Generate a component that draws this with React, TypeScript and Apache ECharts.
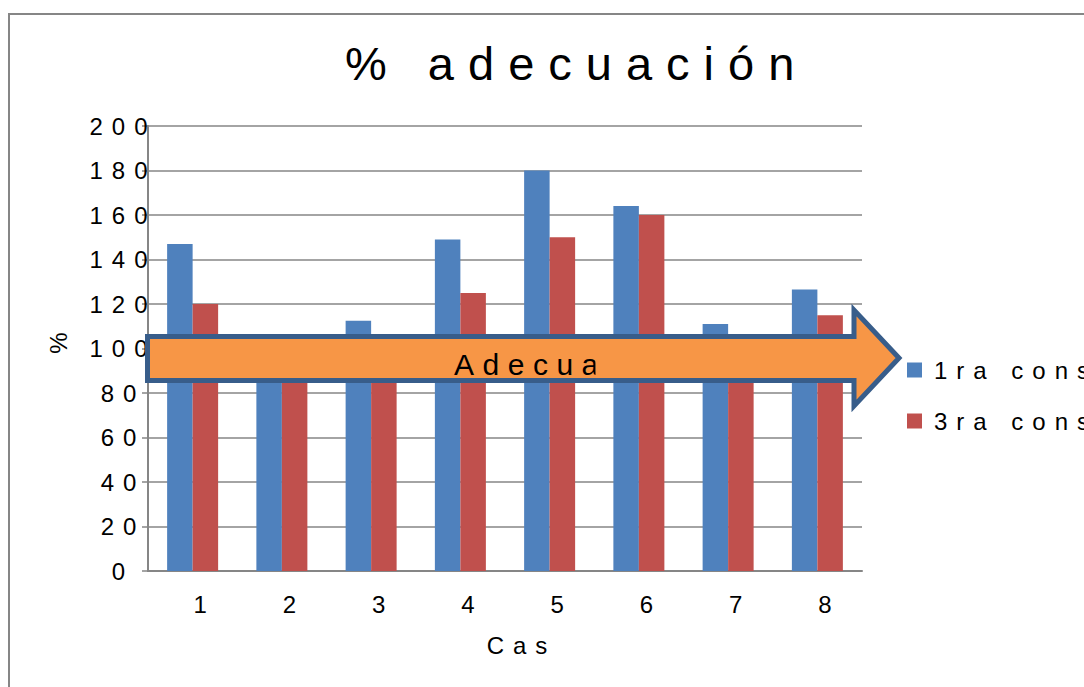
import React, { useEffect, useRef } from "react";
import * as echarts from "echarts";

const categories = ["1", "2", "3", "4", "5", "6", "7", "8"];
const seriesNames = ["1ra consulta", "3ra consulta"];
const primera = [147, 100, 112.5, 149, 180, 164, 111, 126.5];
const tercera = [120, 98, 96, 125, 150, 160, 95, 115];
const yMin = 0;
const yMax = 200;
const yInterval = 20;
const titleText = "% adecuación";
const xName = "Cas";
const yName = "%";
const arrowText = "Adecua";

const FONT = "'Liberation Sans', Arial, Helvetica, sans-serif";
const GRAY = "#868686";

export default function App() {
  const ref = useRef<HTMLDivElement>(null);

  useEffect(() => {
    if (!ref.current) return;
    const chart = echarts.init(ref.current, null, { renderer: "svg" });

    // arrow annotation geometry (layout only)
    const L = 147.5, bt = 336.5, bb = 380.5, hx = 854, ht = 310, tipX = 899, tipY = 358, hb = 406;

    chart.setOption({
      animation: false,
      backgroundColor: "#ffffff",
      title: {
        text: titleText,
        left: 345,
        top: 40,
        padding: 0,
        textStyle: { fontFamily: FONT, fontSize: 47, fontWeight: "normal", color: "#000" },
      },
      legend: {
        data: seriesNames,
        orient: "vertical",
        left: 907,
        top: 358,
        padding: 0,
        itemWidth: 15,
        itemHeight: 15,
        itemGap: 27,
        icon: "rect",
        textStyle: { fontFamily: FONT, fontSize: 24, color: "#000", lineHeight: 24, padding: [0, 0, 0, 7] },
      },
      grid: { left: 148, right: 222, top: 126, bottom: 116, containLabel: false },
      xAxis: {
        type: "category",
        data: categories,
        axisLine: { show: true, lineStyle: { color: GRAY, width: 2 } },
        axisTick: { show: false },
        axisLabel: {
          fontFamily: FONT, fontSize: 24, color: "#000", margin: 21, padding: [0, 0, 0, 24], lineHeight: 24,
        },
        name: xName,
        nameLocation: "middle",
        nameGap: 62,
        nameTextStyle: { fontFamily: FONT, fontSize: 24, color: "#000", padding: [0, 0, 0, 33], lineHeight: 24 },
      },
      yAxis: {
        type: "value",
        min: yMin,
        max: yMax,
        interval: yInterval,
        axisLine: { show: true, lineStyle: { color: GRAY, width: 2 } },
        axisTick: { show: true, length: 6, lineStyle: { color: GRAY, width: 1.5 } },
        splitLine: { show: true, lineStyle: { color: GRAY, width: 1.5 } },
        axisLabel: { fontFamily: FONT, fontSize: 24, color: "#000", align: "center", margin: 25 },
        name: yName,
        nameLocation: "middle",
        nameGap: 78,
        nameTextStyle: { fontFamily: FONT, fontSize: 24, color: "#000", padding: [0, 0, 0, 20] },
      },
      series: [
        { name: seriesNames[0], type: "bar", data: primera, barWidth: 25.5, barGap: "0%", itemStyle: { color: "#4F81BD" } },
        { name: seriesNames[1], type: "bar", data: tercera, barWidth: 25.5, barGap: "0%", itemStyle: { color: "#C0504D" } },
      ],
      graphic: [
        {
          type: "rect",
          z: -1,
          silent: true,
          shape: { x: 9, y: 14, width: 1300, height: 1000 },
          style: { fill: "none", stroke: GRAY, lineWidth: 2 },
        },
        {
          type: "polygon",
          z: 100,
          silent: true,
          shape: {
            points: [
              [L, bt], [hx, bt], [hx, ht], [tipX, tipY], [hx, hb], [hx, bb], [L, bb],
            ],
          },
          style: { fill: "#F79646", stroke: "#385D8A", lineWidth: 5, lineJoin: "miter" },
        },
        {
          type: "text",
          z: 101,
          silent: true,
          x: 454,
          y: 364,
          style: {
            text: arrowText,
            fontFamily: FONT,
            fontSize: 30,
            fill: "#000",
            align: "left",
            verticalAlign: "middle",
          },
        },
        {
          type: "rect",
          z: 102,
          silent: true,
          shape: { x: 595.5, y: 339.5, width: 40, height: 38.5 },
          style: { fill: "#F79646" },
        },
      ],
    });

    // expanded character spacing, as in the reference
    const texts = ref.current.querySelectorAll("text");
    texts.forEach((t) => {
      const fs = parseFloat(window.getComputedStyle(t).fontSize || "12");
      let sp = 9;
      if (fs >= 40) sp = 14;
      else if (fs >= 27) sp = 8.5;
      (t as SVGTextElement).style.letterSpacing = sp + "px";
    });

    return () => chart.dispose();
  }, []);

  return (
    <div
      ref={ref}
      style={{ position: "fixed", left: 0, top: 0, width: 1084, height: 687, overflow: "hidden" }}
    />
  );
}
